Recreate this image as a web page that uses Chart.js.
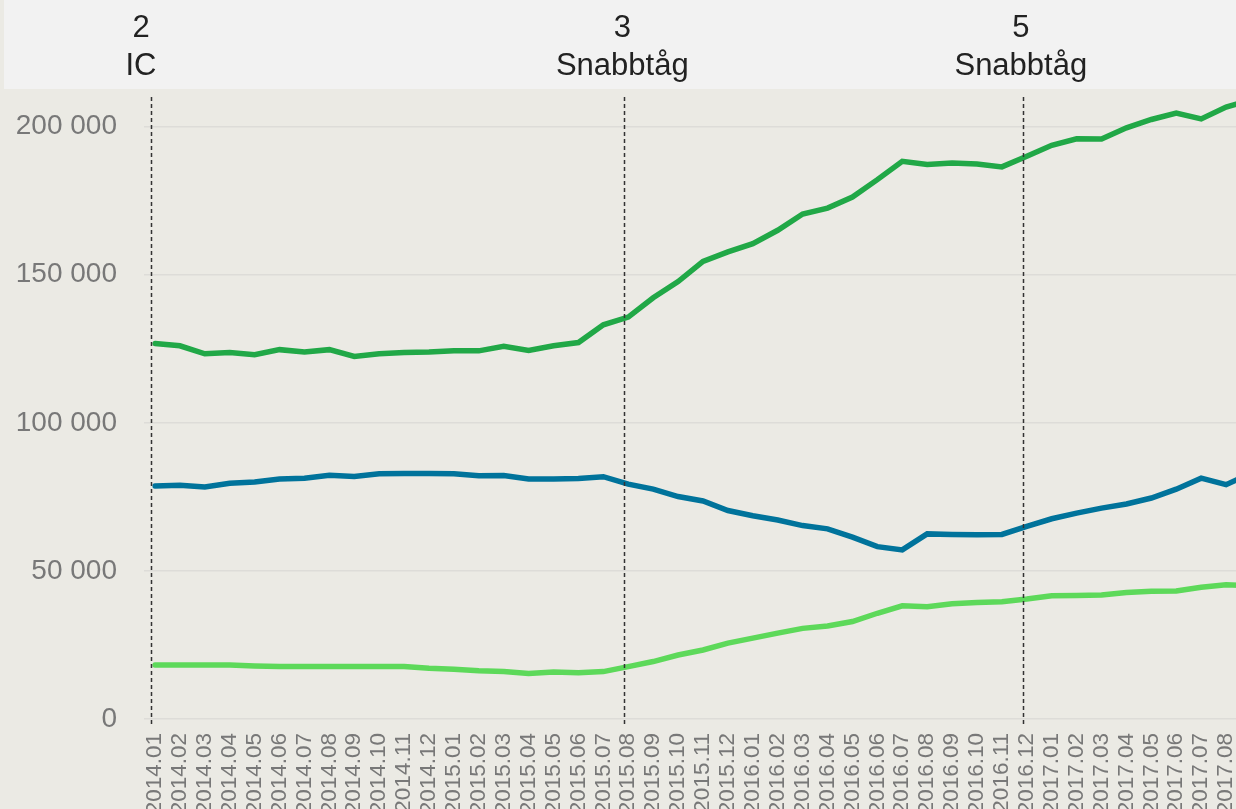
<!DOCTYPE html>
<html>
<head>
<meta charset="utf-8">
<script src="https://cdn.jsdelivr.net/npm/chart.js@4"></script>
<style>
  html, body { margin: 0; padding: 0; background: #ebeae4; overflow: hidden; width: 1236px; height: 809px; }
  canvas { display: block; }
</style>
</head>
<body>
<canvas id="trainChart" width="1251" height="809"></canvas>
<script>
// Monthly values, 2014.01 - 2017.09 (last month runs off the right edge)
const months = [
  '2014.01', '2014.02', '2014.03', '2014.04', '2014.05', '2014.06', '2014.07', '2014.08', '2014.09', '2014.10', '2014.11', '2014.12',
  '2015.01', '2015.02', '2015.03', '2015.04', '2015.05', '2015.06', '2015.07', '2015.08', '2015.09', '2015.10', '2015.11', '2015.12',
  '2016.01', '2016.02', '2016.03', '2016.04', '2016.05', '2016.06', '2016.07', '2016.08', '2016.09', '2016.10', '2016.11', '2016.12',
  '2017.01', '2017.02', '2017.03', '2017.04', '2017.05', '2017.06', '2017.07', '2017.08', '2017.09'
];

const seriesDarkGreen = [
  126800, 126000, 123300, 123700, 123000, 124700, 123900, 124700, 122400, 123300, 123700, 123900,
  124300, 124300, 125800, 124400, 126000, 127100, 133100, 135700, 142200, 147700, 154500, 157700,
  160500, 165000, 170500, 172500, 176200, 182100, 188300, 187200, 187700, 187400, 186400, 190000,
  193700, 195900, 195800, 199600, 202400, 204600, 202600, 206600, 209000
];

const seriesBlue = [
  78700, 78950, 78300, 79600, 80000, 81000, 81300, 82300, 81900, 82800, 82900, 82900,
  82800, 82100, 82200, 81000, 81000, 81200, 81800, 79300, 77600, 75100, 73600, 70400,
  68600, 67200, 65300, 64200, 61400, 58200, 57100, 62500, 62300, 62200, 62300, 65000,
  67600, 69500, 71200, 72600, 74600, 77600, 81300, 79100, 83000
];

const seriesLightGreen = [
  18200, 18200, 18200, 18200, 17900, 17700, 17700, 17700, 17700, 17700, 17700, 17100,
  16800, 16300, 16000, 15400, 15900, 15600, 16000, 17700, 19400, 21600, 23300, 25600,
  27300, 29000, 30600, 31400, 32900, 35700, 38200, 37900, 38900, 39300, 39600, 40500,
  41600, 41700, 41900, 42700, 43100, 43200, 44500, 45300, 45000
];

const yTicks = [0, 50000, 100000, 150000, 200000];

// timetable change markers shown in the header band
const markerMonths = ['2014.01', '2015.08', '2016.12'];
const markerTexts = [['2', 'IC'], ['3', 'Snabbtåg'], ['5', 'Snabbtåg']];

const FONT = "'Liberation Sans', Arial, sans-serif";

function spaced(v) {
  return String(v).replace(/\B(?=(\d{3})+(?!\d))/g, ' ');
}

const markerPlugin = {
  id: 'markers',
  beforeDraw(chart) {
    const ctx = chart.ctx;
    ctx.save();
    ctx.fillStyle = '#f2f2f2';
    ctx.fillRect(4, 0, chart.width, 89);
    ctx.restore();
  },
  afterDatasetsDraw(chart) {
    const ctx = chart.ctx;
    const x = chart.scales.x;
    const area = chart.chartArea;
    ctx.save();
    ctx.strokeStyle = '#333';
    ctx.lineWidth = 1.5;
    ctx.setLineDash([4, 3]);
    markerMonths.forEach(m => {
      const px = Math.round(x.getPixelForValue(months.indexOf(m)) - 4) + 0.5;
      ctx.beginPath();
      ctx.moveTo(px, area.top);
      ctx.lineTo(px, area.bottom + 8);
      ctx.stroke();
    });
    ctx.setLineDash([]);
    ctx.fillStyle = '#222';
    ctx.font = '31px ' + FONT;
    ctx.textAlign = 'center';
    ctx.textBaseline = 'alphabetic';
    markerMonths.forEach((m, i) => {
      const px = x.getPixelForValue(months.indexOf(m)) - (i === 0 ? 14 : 6);
      ctx.fillText(markerTexts[i][0], px, 37);
      ctx.fillText(markerTexts[i][1], px, 75);
    });
    ctx.restore();
  }
};

function lineSet(label, data, color) {
  return {
    label: label,
    data: data,
    borderColor: color,
    backgroundColor: color,
    borderWidth: 5.5,
    borderCapStyle: 'round',
    pointRadius: 0,
    tension: 0,
    fill: false
  };
}

function noPad(s) {
  s.paddingLeft = 0;
  s.paddingRight = 0;
  s.paddingTop = 0;
  s.paddingBottom = 0;
}

new Chart(document.getElementById('trainChart').getContext('2d'), {
  type: 'line',
  data: {
    labels: months,
    datasets: [
      lineSet('Serie A', seriesDarkGreen, '#21a847'),
      lineSet('Serie B', seriesBlue, '#00739b'),
      lineSet('Serie C', seriesLightGreen, '#5dd95a')
    ]
  },
  plugins: [markerPlugin],
  options: {
    responsive: false,
    animation: false,
    layout: { autoPadding: false, padding: { top: 97, right: 0, bottom: 0, left: 0 } },
    plugins: { legend: { display: false }, tooltip: { enabled: false } },
    scales: {
      x: {
        afterFit: s => { s.height = 90; noPad(s); },
        grid: { display: false, drawTicks: false },
        border: { display: false },
        ticks: {
          autoSkip: false,
          minRotation: 90,
          maxRotation: 90,
          padding: 14,
          color: '#787878',
          font: { family: FONT, size: 22.5 }
        }
      },
      y: {
        min: 0,
        max: 210000,
        afterFit: s => { s.width = 155; noPad(s); },
        afterBuildTicks: s => { s.ticks = yTicks.map(v => ({ value: v })); },
        border: { display: false },
        grid: { color: '#dddcd8', lineWidth: 1.5, drawTicks: true, tickLength: 11 },
        ticks: {
          padding: 27,
          color: '#787878',
          font: { family: FONT, size: 28 },
          callback: v => spaced(v)
        }
      }
    }
  }
});
</script>
</body>
</html>
